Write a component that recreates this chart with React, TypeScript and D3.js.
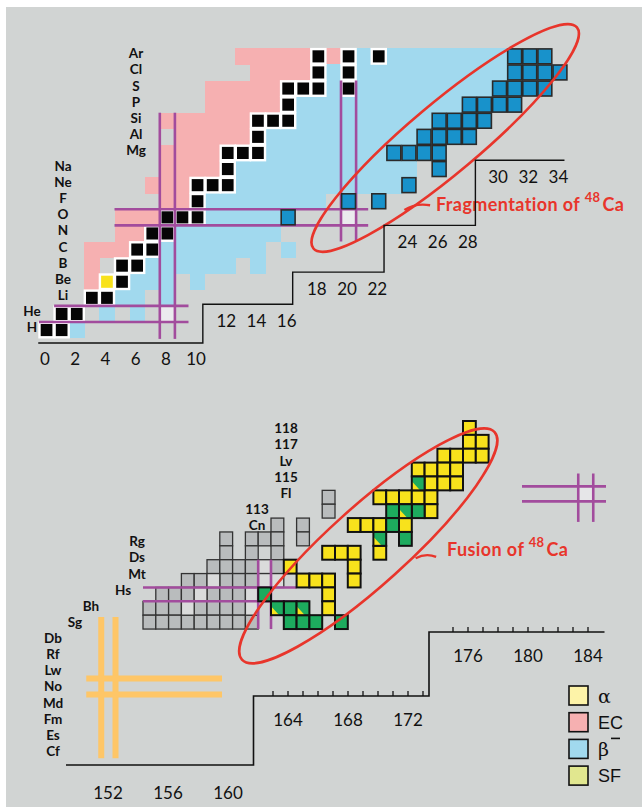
import React from 'react';
import * as d3 from 'd3';

// ---------- top panel: light nuclei, pairs are [Z, N] ----------
const elementsTop = ['H', 'He', 'Li', 'Be', 'B', 'C', 'N', 'O', 'F', 'Ne', 'Na', 'Mg', 'Al', 'Si', 'P', 'S', 'Cl', 'Ar'];
const stableTop: [number, number][] = [
  [1, 0], [1, 1], [2, 1], [2, 2], [3, 3], [3, 4], [4, 5], [5, 5], [5, 6], [6, 6], [6, 7], [7, 7], [7, 8],
  [8, 8], [8, 9], [8, 10], [9, 10], [10, 10], [10, 11], [10, 12], [11, 12], [12, 12], [12, 13], [12, 14],
  [13, 14], [14, 14], [14, 15], [14, 16], [15, 16], [16, 16], [16, 17], [16, 18], [16, 20], [17, 18], [17, 20],
  [18, 18], [18, 20], [18, 22],
];
const alphaTop: [number, number][] = [[4, 4]];
const unboundTop: [number, number][] = [[2, 8], [8, 20]];
// [Z, first N, last N]
const ecRuns: [number, number, number][] = [
  [4, 3, 3], [5, 3, 3], [6, 3, 5], [7, 5, 6], [8, 5, 7], [9, 8, 9], [10, 7, 9], [11, 8, 11], [12, 8, 11],
  [13, 9, 13], [14, 8, 13], [15, 11, 15], [16, 11, 15], [17, 14, 17], [18, 13, 17], [18, 19, 19],
];
const betaRuns: [number, number, number][] = [
  [1, 2, 2], [2, 4, 4], [2, 6, 6], [3, 5, 6], [3, 8, 8], [4, 6, 8], [4, 10, 10], [5, 7, 12], [5, 14, 14],
  [6, 8, 14], [6, 16, 16], [7, 9, 15], [8, 11, 15], [9, 11, 18], [10, 13, 23], [11, 13, 24],
  [12, 15, 22], [13, 15, 24], [14, 17, 25], [15, 17, 27], [16, 19, 19], [16, 21, 29],
  [17, 19, 19], [17, 21, 30], [18, 21, 21], [18, 23, 30],
];
const fragRuns: [number, number, number][] = [
  [8, 16, 16], [9, 20, 20], [9, 22, 22], [10, 24, 24], [11, 26, 26], [12, 23, 26], [13, 25, 28],
  [14, 26, 29], [15, 28, 31], [16, 30, 33], [17, 31, 34], [18, 31, 33],
];
// stair axis of the top panel: [first tick, last tick, step start N, step end N, level Z]
const topSteps: [number, number, number, number, number][] = [
  [0, 10, -0.05, 10.85, -0.3],
  [12, 16, 10.85, 16.8, 2.1],
  [18, 22, 16.8, 22.85, 4.1],
  [24, 28, 22.85, 28.9, 7.0],
  [30, 34, 28.9, 34.8, 11.05],
];

// ---------- bottom panel: superheavy elements, cells on a [col, row] grid ----------
const sheGray: [number, number][] = [
  [14, 5], [14, 6], [10, 7], [12, 7],
  [6, 8], [8, 8], [9, 8], [10, 8], [12, 8],
  [6, 9], [8, 9], [10, 9],
  [5, 10], [6, 10], [7, 10], [8, 10], [10, 10],
  [3, 11], [4, 11], [6, 11], [7, 11], [8, 11],
  [1, 12], [2, 12], [3, 12], [5, 12], [6, 12], [7, 12],
  [0, 13], [1, 13], [2, 13], [4, 13], [5, 13], [6, 13], [7, 13],
  [0, 14], [1, 14], [2, 14], [3, 14], [4, 14], [5, 14], [6, 14], [7, 14], [8, 14],
];
const sheLight: [number, number][] = [[5, 11], [9, 10], [9, 11], [10, 11], [4, 12], [8, 12], [3, 13], [8, 13]];
const sheAlpha: [number, number][] = [
  [25, 0], [25, 1], [26, 1], [23, 2], [24, 2], [25, 2], [26, 2], [21, 3], [22, 3], [23, 3], [24, 3],
  [22, 4], [23, 4], [24, 4], [18, 5], [19, 5], [20, 5], [21, 5], [22, 5], [22, 6],
  [16, 7], [17, 7], [18, 7], [20, 7], [14, 9], [15, 9], [16, 9], [18, 9], [11, 10], [16, 10],
  [12, 11], [13, 11], [14, 11], [16, 11], [14, 12], [14, 13],
];
const sheSF: [number, number][] = [
  [19, 6], [21, 6], [19, 7], [20, 8], [9, 12], [11, 13], [11, 14], [12, 14], [13, 14], [15, 14],
];
const sheMixed: [number, number][] = [[21, 4], [20, 6], [18, 8], [10, 13], [12, 13]];
const zLabelsBottom: [number, string][] = [
  [98, 'Cf'], [99, 'Es'], [100, 'Fm'], [101, 'Md'], [102, 'No'], [103, 'Lw'], [104, 'Rf'], [105, 'Db'],
  [106, 'Sg'], [107, 'Bh'], [108, 'Hs'], [109, 'Mt'], [110, 'Ds'], [111, 'Rg'], [112, 'Cn'], [113, '113'],
  [114, 'Fl'], [115, '115'], [116, 'Lv'], [117, '117'], [118, '118'],
];
// [first tick, last tick, labels, step start N, step end N, level]
const bottomSteps: [number, number, number[], number, number, number][] = [
  [0, -1, [152, 156, 160], 149.2, 161.7, 765],
  [163, 173, [164, 168, 172], 161.7, 173.4, 696],
  [175, 184, [176, 180, 184], 173.4, 185.1, 632],
];
const legendItems = [
  { label: 'α', color: '#fdf3a8', serif: true },
  { label: 'EC', color: '#f6b0b1', serif: false },
  { label: 'β', color: '#a1d9ee', serif: true },
  { label: 'SF', color: '#e1e78f', serif: false },
];

const BG = '#d1d4d3';
const PINK = '#f6b0b1';
const LBLUE = '#a1d9ee';
const DBLUE = '#1892cb';
const LILAC = '#a24c9d';
const RED = '#e8352b';
const YEL = '#f8e21c';
const GRN = '#1dab5e';
const ORANGE = '#fec667';
const FONT = "Lato, 'Open Sans', sans-serif";

const runs = (r: [number, number, number][]) =>
  r.flatMap(([z, a, b]) => d3.range(a, b + 1).map((n) => [z, n] as [number, number]));

export default function App() {
  const W = 642;
  const H = 807;

  // top grid
  const xT = d3.scaleLinear().domain([0, 1]).range([39, 54.1]);
  const yT = d3.scaleLinear().domain([1, 2]).range([322, 305.9]);
  const cw = xT(1) - xT(0);
  const ch = yT(1) - yT(2);
  const cellT = (z: number, n: number) => ({ x: xT(n), y: yT(z), w: cw, h: ch });

  // bottom grid
  const xG = d3.scaleLinear().domain([0, 1]).range([143, 155.8]);
  const yG = d3.scaleLinear().domain([0, 1]).range([421, 434.87]);
  const gw = xG(1) - xG(0);
  const gh = yG(1) - yG(0);
  const xA = d3.scaleLinear().domain([152, 156]).range([108, 168]);
  const yZ = d3.scaleLinear().domain([98, 113]).range([751, 509]);

  const zLabelXTop = (z: number) => (z >= 12 ? 136 : z >= 3 ? 63 : 32);
  const zLabelXBottom = (z: number) =>
    z >= 114 ? 286 : z >= 112 ? 257 : z >= 109 ? 137 : z === 108 ? 123 : z === 107 ? 91 : z === 106 ? 75 : 53;

  const topStair = topSteps
    .map(([, , a, b, lz], i) => `${i === 0 ? 'M' : 'L'}${xT(a)},${yT(lz)}L${xT(b)},${yT(lz)}`)
    .join('');
  const bottomStair = bottomSteps
    .map(([, , , a, b, ly], i) => `${i === 0 ? 'M' : 'L'}${xA(a)},${ly}L${xA(b)},${ly}`)
    .join('');

  const ell1 = { cx: xT(26.9), cy: yT(12.43) };
  const ell2 = { cx: xG(17.6), cy: yG(9.0) };

  return (
    <div style={{ position: 'absolute', left: 0, top: 0 }}>
      <svg width={W} height={H} style={{ display: 'block', background: '#fff' }}>
        <rect x={6} y={7} width={W - 6} height={H - 7} fill={BG} />

        {/* ---------- top panel ---------- */}
        <g shapeRendering="crispEdges">
          {runs(ecRuns).map(([z, n]) => {
            const c = cellT(z, n);
            return <rect key={`ec${z}-${n}`} x={c.x} y={c.y} width={c.w + 0.3} height={c.h + 0.3} fill={PINK} />;
          })}
          {runs(betaRuns).map(([z, n]) => {
            const c = cellT(z, n);
            return <rect key={`b${z}-${n}`} x={c.x} y={c.y} width={c.w + 0.3} height={c.h + 0.3} fill={LBLUE} />;
          })}
          {unboundTop.map(([z, n]) => {
            const c = cellT(z, n);
            return <rect key={`u${z}-${n}`} x={c.x} y={c.y} width={c.w} height={c.h} fill="#ebebee" />;
          })}
        </g>
        {stableTop.map(([z, n]) => {
          const c = cellT(z, n);
          return (
            <rect key={`s${z}-${n}`} x={c.x + 0.5} y={c.y + 0.8} width={c.w - 1} height={c.h - 1.6}
              fill="#050505" stroke="#fff" strokeWidth={2.4} />
          );
        })}
        {alphaTop.map(([z, n]) => {
          const c = cellT(z, n);
          return <rect key={`a${z}-${n}`} x={c.x + 0.5} y={c.y + 0.8} width={c.w - 1} height={c.h - 1.6}
            fill={YEL} stroke="#fff" strokeWidth={2.4} />;
        })}
        {/* magic numbers */}
        <g stroke={LILAC} strokeWidth={2.6}>
          {[8, 9].map((n) => <line key={`v8${n}`} x1={xT(n)} x2={xT(n)} y1={yT(14)} y2={yT(-0.05)} />)}
          {[20, 21].map((n) => <line key={`v20${n}`} x1={xT(n)} x2={xT(n)} y1={yT(16)} y2={yT(6)} />)}
          {[8, 7].map((z) => <line key={`h8${z}`} x1={xT(5)} x2={xT(21.8)} y1={yT(z)} y2={yT(z)} />)}
          <line x1={xT(1)} x2={xT(9.9)} y1={yT(2)} y2={yT(2)} />
          <line x1={xT(0)} x2={xT(9.9)} y1={yT(1)} y2={yT(1)} />
        </g>
        {runs(fragRuns).map(([z, n]) => {
          const c = cellT(z, n);
          return (
            <rect key={`f${z}-${n}`} x={c.x + 0.6} y={c.y + 0.6} width={c.w - 1.2} height={c.h - 1.2}
              fill={DBLUE} stroke="#2a2a2a" strokeWidth={1.6} />
          );
        })}
        <ellipse cx={ell1.cx} cy={ell1.cy} rx={172} ry={35} fill="none" stroke={RED} strokeWidth={2.6}
          transform={`rotate(-40 ${ell1.cx} ${ell1.cy})`} />
        <path d={`M${xT(24.2)},${yT(7.95)}Q${xT(24.9)},${yT(8.4)} ${xT(25.9)},${yT(8.25)}`} fill="none" stroke={RED} strokeWidth={2.4} />
        <text x={436} y={211} fontFamily={FONT} fontWeight={700} fontSize={18} fill={RED} letterSpacing={0.4}>
          Fragmentation of <tspan dy={-9} fontSize={13}>48</tspan><tspan dy={9} dx={2}>Ca</tspan>
        </text>

        {/* element labels */}
        <g fontFamily={FONT} fontWeight={700} fontSize={13.5} fill="#111" textAnchor="middle">
          {elementsTop.map((el, i) => (
            <text key={el} x={zLabelXTop(i + 1)} y={yT(i + 1) + ch / 2 - 3} dominantBaseline="central">{el}</text>
          ))}
        </g>
        {/* stair axis */}
        <path d={topStair} fill="none" stroke="#111" strokeWidth={1.4} />
        <g fontFamily={FONT} fontSize={17} fill="#111" textAnchor="middle">
          {topSteps.flatMap(([a, b, , , lz]) =>
            d3.range(a, b + 1, 2).map((n) => (
              <text key={`t${n}`} x={xT(n) + cw / 2 - 1.5} y={yT(lz) + 16} dominantBaseline="central">{n}</text>
            )))}
        </g>

        {/* ---------- bottom panel ---------- */}
        {sheGray.map(([c, r]) => (
          <rect key={`g${c}-${r}`} x={xG(c)} y={yG(r)} width={gw} height={gh} fill="#b9bcbd" stroke="#333" strokeWidth={1.3} />
        ))}
        {sheLight.map(([c, r]) => (
          <rect key={`l${c}-${r}`} x={xG(c)} y={yG(r)} width={gw} height={gh} fill="#dadbdb" stroke="#333" strokeWidth={1.3} />
        ))}
        <g stroke={LILAC} strokeWidth={2.6}>
          <line x1={xG(0)} x2={xG(12)} y1={yG(12)} y2={yG(12)} />
          <line x1={xG(0)} x2={xG(13)} y1={yG(13)} y2={yG(13)} />
          {[9, 10].map((c) => <line key={`hv${c}`} x1={xG(c)} x2={xG(c)} y1={yG(10)} y2={yG(15)} />)}
        </g>
        {sheAlpha.map(([c, r]) => (
          <rect key={`y${c}-${r}`} x={xG(c)} y={yG(r)} width={gw} height={gh} fill={YEL} stroke="#111" strokeWidth={2} />
        ))}
        {sheSF.map(([c, r]) => (
          <rect key={`sf${c}-${r}`} x={xG(c)} y={yG(r)} width={gw} height={gh} fill={GRN} stroke="#111" strokeWidth={2} />
        ))}
        {sheMixed.map(([c, r]) => {
          const x = xG(c);
          const y = yG(r);
          return (
            <g key={`m${c}-${r}`}>
              <rect x={x} y={y} width={gw} height={gh} fill={GRN} />
              <path d={`M${x},${y + gh * 0.35}L${x},${y + gh}L${x + gw * 0.65},${y + gh}Z`} fill={YEL} />
              <rect x={x} y={y} width={gw} height={gh} fill="none" stroke="#111" strokeWidth={2} />
            </g>
          );
        })}
        <ellipse cx={ell2.cx} cy={ell2.cy} rx={170} ry={39} fill="none" stroke={RED} strokeWidth={2.6}
          transform={`rotate(-42 ${ell2.cx} ${ell2.cy})`} />
        <path d={`M${xG(21.3)},${yG(9.9)}Q${xG(22.1)},${yG(9.5)} ${xG(22.9)},${yG(9.8)}`} fill="none" stroke={RED} strokeWidth={2.4} />
        <text x={447} y={556} fontFamily={FONT} fontWeight={700} fontSize={18} fill={RED} letterSpacing={0.4}>
          Fusion of <tspan dy={-9} fontSize={13}>48</tspan><tspan dy={9} dx={2}>Ca</tspan>
        </text>

        {/* island of stability cross */}
        <rect x={xA(183.35)} y={yZ(114.4)} width={xA(184.35) - xA(183.35)} height={yZ(113.47) - yZ(114.4)} fill="#e6e6e8" />
        <g stroke={LILAC} strokeWidth={2.6}>
          {[183.35, 184.35].map((n) => <line key={`iv${n}`} x1={xA(n)} x2={xA(n)} y1={yZ(115.2)} y2={yZ(112.2)} />)}
          {[114.4, 113.47].map((z) => <line key={`ih${z}`} x1={xA(179.6)} x2={xA(185.2)} y1={yZ(z)} y2={yZ(z)} />)}
        </g>

        {/* N=152 / Z=102 shell lines */}
        <g stroke={ORANGE} strokeWidth={6}>
          {[151.55, 152.5].map((n) => <line key={`ov${n}`} x1={xA(n)} x2={xA(n)} y1={yZ(106.3)} y2={yZ(97.55)} />)}
          {[102.5, 101.5].map((z) => <line key={`oh${z}`} x1={xA(150.55)} x2={xA(159.6)} y1={yZ(z)} y2={yZ(z)} />)}
        </g>

        <g fontFamily={FONT} fontWeight={700} fontSize={13.5} fill="#111" textAnchor="middle">
          {zLabelsBottom.map(([z, s]) => (
            <text key={s} x={zLabelXBottom(z)} y={yZ(z)} dominantBaseline="central">{s}</text>
          ))}
        </g>

        <path d={bottomStair} fill="none" stroke="#111" strokeWidth={1.6} />
        <g stroke="#111" strokeWidth={1.3}>
          {bottomSteps.flatMap(([a, b, , , , ly]) =>
            a <= b ? d3.range(a, b + 1).map((n) => <line key={`k${n}`} x1={xA(n)} x2={xA(n)} y1={ly} y2={ly - 5} />) : [])}
        </g>
        <g fontFamily={FONT} fontSize={17} fill="#111" textAnchor="middle">
          {bottomSteps.flatMap(([, , labels, , , ly], i) =>
            labels.map((n) => (
              <text key={`bl${n}`} x={xA(n)} y={ly + (i === 0 ? 27 : 23)} dominantBaseline="central">{n}</text>
            )))}
        </g>

        {/* legend */}
        {legendItems.map((it, i) => (
          <g key={it.label} transform={`translate(569,${686 + i * 26.7})`}>
            <rect width={19} height={19} fill={it.color} stroke="#111" strokeWidth={1.6} />
            <text x={29} y={10} dominantBaseline="central"
              fontFamily={it.serif ? "'DejaVu Serif', 'Liberation Serif', serif" : "'Liberation Sans', Arial, sans-serif"}
              fontSize={it.serif ? 19 : 18} fill="#111">
              {it.label}
            </text>
            {it.label === 'β' ? <line x1={42} x2={51} y1={-1} y2={-1} stroke="#111" strokeWidth={1.6} /> : null}
          </g>
        ))}
      </svg>
    </div>
  );
}
